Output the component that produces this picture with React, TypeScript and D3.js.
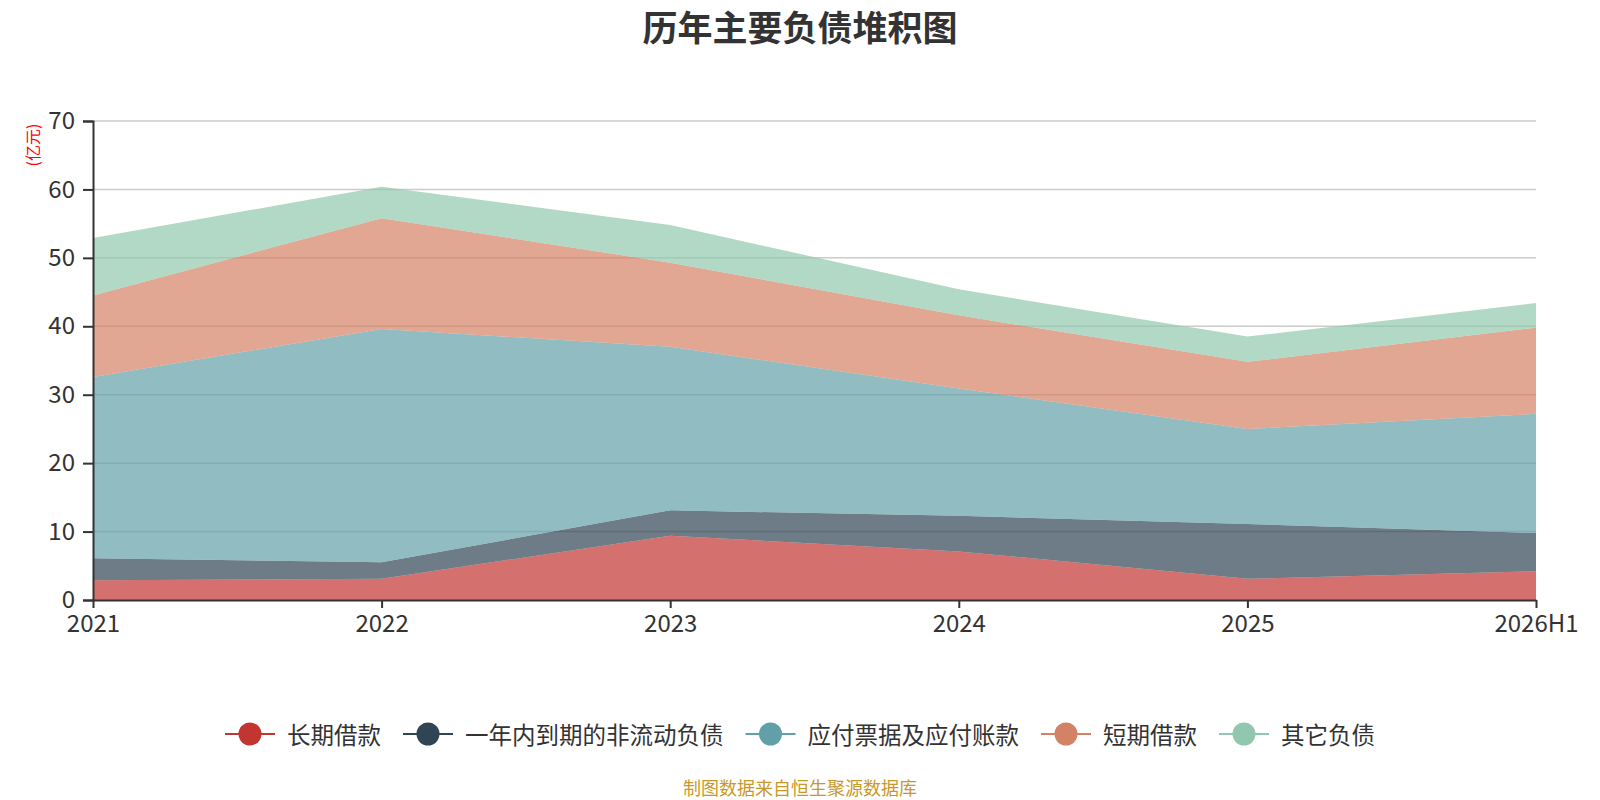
import React, { useEffect, useRef } from 'react';
import * as d3 from 'd3';

const categories = ['2021', '2022', '2023', '2024', '2025', '2026H1'];
const longTermLoans = [2.9, 3.1, 9.4, 7.1, 3.1, 4.2];
const currentNonCurrent = [3.2, 2.4, 3.7, 5.2, 8.0, 5.6];
const payables = [26.5, 34.1, 23.9, 18.6, 13.9, 17.4];
const shortTermLoans = [11.9, 16.2, 12.3, 10.7, 9.8, 12.6];
const otherLiabilities = [8.4, 4.6, 5.5, 3.8, 3.7, 3.6];
const seriesNames = ['长期借款', '一年内到期的非流动负债', '应付票据及应付账款', '短期借款', '其它负债'];
const yTicks = [0, 10, 20, 30, 40, 50, 60, 70];

const colors = ['#c23531', '#2f4554', '#61a0a8', '#d48265', '#91c7ae'];
const FONT = '"Noto Sans CJK SC", "Noto Sans", sans-serif';

export default function App() {
  const svgRef = useRef<SVGSVGElement>(null);

  useEffect(() => {
    document.body.style.margin = '0';
    if (!svgRef.current) return;
    const svg = d3.select(svgRef.current);
    svg.selectAll('*').remove();

    const width = 1600;
    const height = 800;
    const margin = { top: 121, right: 64, bottom: 200, left: 93 };

    const x = d3.scalePoint<string>()
      .domain(categories)
      .range([margin.left, width - margin.right]);
    const y = d3.scaleLinear()
      .domain([0, 70])
      .range([height - margin.bottom, margin.top]);

    // 数据表
    const seriesValues = [longTermLoans, currentNonCurrent, payables, shortTermLoans, otherLiabilities];
    const rows = categories.map((c, i) => {
      const row: Record<string, any> = { cat: c };
      seriesNames.forEach((n, k) => { row[n] = seriesValues[k][i]; });
      return row;
    });
    const stacked = d3.stack<any>().keys(seriesNames)(rows);

    // 网格线
    svg.append('g')
      .selectAll('line')
      .data(yTicks.filter(t => t > 0))
      .enter()
      .append('line')
      .attr('x1', margin.left)
      .attr('x2', width - margin.right)
      .attr('y1', d => y(d))
      .attr('y2', d => y(d))
      .style('stroke', '#ccc')
      .style('stroke-width', 1.5);

    // 堆积面积
    const area = d3.area<any>()
      .x(d => x(d.data.cat) as number)
      .y0(d => y(d[0]))
      .y1(d => y(d[1]));

    svg.append('g')
      .selectAll('path')
      .data(stacked)
      .enter()
      .append('path')
      .attr('d', area as any)
      .style('fill', (_, i) => colors[i])
      .style('fill-opacity', 0.7);

    // Y 轴
    const yAxis = svg.append('g')
      .attr('transform', `translate(${margin.left},0)`)
      .call(d3.axisLeft(y).tickValues(yTicks).tickSize(10).tickPadding(8));
    yAxis.select('.domain').style('stroke', '#333').style('stroke-width', 2);
    yAxis.selectAll('.tick line').style('stroke', '#333').style('stroke-width', 2);
    yAxis.selectAll('.tick text')
      .style('font-family', FONT)
      .style('font-size', '24px')
      .style('fill', '#333');

    // X 轴
    const xAxis = svg.append('g')
      .attr('transform', `translate(0,${height - margin.bottom})`)
      .call(d3.axisBottom(x).tickSize(8).tickPadding(7).tickSizeOuter(0));
    xAxis.select('.domain').style('stroke', '#333').style('stroke-width', 2);
    xAxis.selectAll('.tick line').style('stroke', '#333').style('stroke-width', 2);
    xAxis.selectAll('.tick text')
      .style('font-family', FONT)
      .style('font-size', '24px')
      .style('fill', '#333');

    // 单位
    svg.append('text')
      .attr('transform', 'translate(32,145) rotate(-90)')
      .attr('text-anchor', 'middle')
      .attr('dominant-baseline', 'central')
      .style('font-family', FONT)
      .style('font-size', '16px')
      .style('fill', '#ff0000')
      .text('(亿元)');

    // 标题
    svg.append('text')
      .attr('x', width / 2)
      .attr('y', 25)
      .attr('text-anchor', 'middle')
      .attr('dominant-baseline', 'central')
      .style('font-family', FONT)
      .style('font-size', '35px')
      .style('font-weight', 'bold')
      .style('fill', '#333')
      .text('历年主要负债堆积图');

    // 图例
    const legendFont = 23.5;
    const iconW = 50;
    const textGap = 12;
    const itemGap = 22;
    const widths = seriesNames.map(n => iconW + textGap + n.length * legendFont);
    const total = d3.sum(widths) + itemGap * (seriesNames.length - 1);
    let cursor = width / 2 - total / 2;
    const legendY = 734;
    const legend = svg.append('g');
    seriesNames.forEach((n, i) => {
      const g = legend.append('g').attr('transform', `translate(${cursor},${legendY})`);
      g.append('line')
        .attr('x1', 0).attr('x2', iconW)
        .attr('y1', 0).attr('y2', 0)
        .style('stroke', colors[i])
        .style('stroke-width', 2);
      g.append('circle')
        .attr('cx', iconW / 2).attr('cy', 0).attr('r', 11.5)
        .style('fill', colors[i]);
      g.append('text')
        .attr('x', iconW + textGap)
        .attr('y', 0)
        .attr('dominant-baseline', 'central')
        .style('font-family', FONT)
        .style('font-size', `${legendFont}px`)
        .style('fill', '#333')
        .text(n);
      cursor += widths[i] + itemGap;
    });

    // 数据来源
    svg.append('text')
      .attr('x', width / 2)
      .attr('y', 787)
      .attr('text-anchor', 'middle')
      .attr('dominant-baseline', 'central')
      .style('font-family', FONT)
      .style('font-size', '18px')
      .style('fill', '#c9982b')
      .text('制图数据来自恒生聚源数据库');
  }, []);

  return (
    <div style={{ width: 1600, height: 800, background: '#fff' }}>
      <svg ref={svgRef} width={1600} height={800} style={{ display: 'block' }}></svg>
    </div>
  );
}
